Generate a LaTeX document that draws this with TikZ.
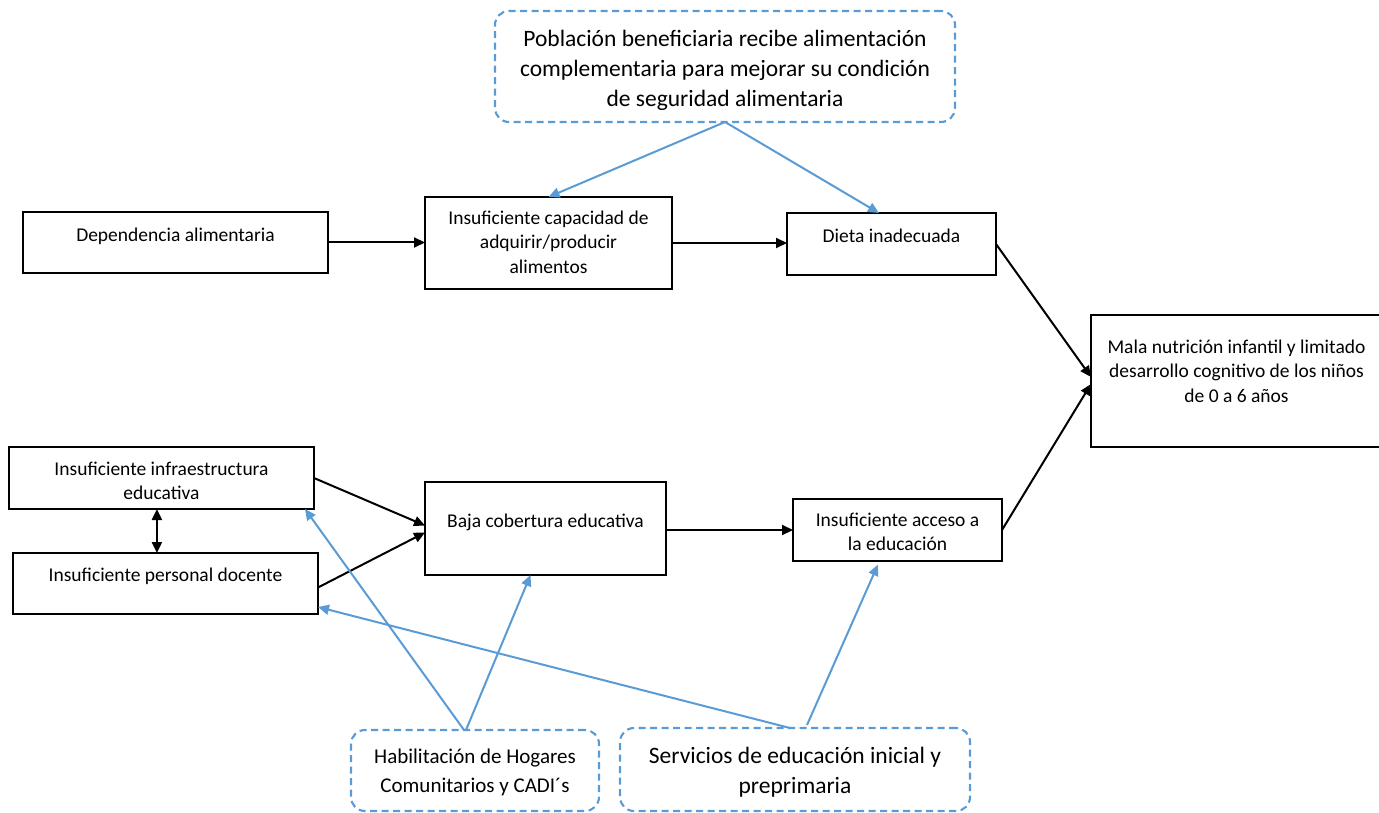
\documentclass[tikz,border=0pt]{standalone}
\usepackage{fontspec}
\setmainfont{Carlito}
\usetikzlibrary{arrows.meta,calc}
\definecolor{bl}{HTML}{5B9BD5}
% width, height, top space, text, font size, baselineskip
\newcommand{\bxt}[6]{\parbox[c][#2pt][t]{#1pt}{\fontsize{#5pt}{#6pt}\selectfont\vspace*{#3pt}\centering\strut #4\par}}
\begin{document}
\begin{tikzpicture}[x=1pt,y=-1pt,
  box/.style={draw=black,line width=2.3pt,inner sep=0pt,outer sep=0pt,anchor=north west},
  dbox/.style={draw=bl,line width=2.1pt,dash pattern=on 7pt off 4.5pt,rounded corners=14pt,inner sep=0pt,outer sep=0pt,anchor=north west},
  blk/.style={draw=black,line width=2pt,-{Triangle[length=11pt,width=10pt]}},
  blu/.style={draw=bl,line width=2pt,-{Triangle[length=11pt,width=10pt]}}]
\useasboundingbox (0,0) rectangle (1379,813);
% boxes
\node[box] (dep) at (23,212) {\bxt{305}{61}{12.35}{Dependencia alimentaria}{19.5}{24.5}};
\node[box] (cap) at (425,197) {\bxt{247}{92}{10.35}{Insuficiente capacidad de\\adquirir/producir\\alimentos}{19.5}{24.5}};
\node[box] (dieta) at (787,213) {\bxt{209}{62}{12.35}{Dieta inadecuada}{19.5}{24.5}};
\node[box] (mala) at (1091,315) {\bxt{291}{132}{21}{Mala nutrición infantil y limitado\\desarrollo cognitivo de los niños\\de 0 a 6 años}{19.5}{24.5}};
\node[box] (infra) at (9,447) {\bxt{305}{62}{11.35}{Insuficiente infraestructura\\educativa}{19.5}{24}};
\node[box] (doc) at (13,553) {\bxt{305}{61}{11.35}{Insuficiente personal docente}{19.5}{24.5}};
\node[box] (baja) at (425,482) {\bxt{241}{93}{28}{Baja cobertura educativa}{19.5}{24.5}};
\node[box] (acc) at (793,499) {\bxt{209}{62}{11.35}{Insuficiente acceso a\\la educación}{19.5}{23.5}};
% dashed boxes
\node[dbox] (pob) at (495,11) {\bxt{460}{111}{14.8}{Población beneficiaria recibe alimentación\\complementaria para mejorar su condición\\de seguridad alimentaria}{23.5}{30}};
\node[dbox] (hab) at (351,730) {\bxt{248}{81}{13}{Habilitación de Hogares\\Comunitarios y CADI´s}{21}{29}};
\node[dbox] (serv) at (620,728) {\bxt{350}{83}{15}{Servicios de educación inicial y\\preprimaria}{23.5}{29.5}};
% black connectors
\draw[blk] (dep.east) -- (dep.east -| cap.west);
\draw[blk] (cap.east) -- (cap.east -| dieta.west);
\draw[blk] (dieta.east) -- ([yshift=4pt]mala.west);
\draw[blk] (acc.east) -- ([yshift=-3pt]mala.west);
\draw[blk] (infra.east) -- ([yshift=3pt]baja.west);
\draw[blk] ([yshift=-4pt]doc.east) -- ([yshift=-4pt]baja.west);
\draw[blk] (baja.east |- acc.west) -- (acc.west);
\draw[blk,{Triangle[length=11pt,width=10pt]}-{Triangle[length=11pt,width=10pt]}]
  ($(infra.south west)!0.485!(infra.south east)$) coordinate (ia) -- (ia |- doc.north);
% blue connectors
\draw[blu] (pob.south) -- (cap.north);
\draw[blu] (pob.south) -- ($(dieta.north west)!0.44!(dieta.north east)$);
\draw[blu] ([xshift=-11pt]hab.north) -- ([xshift=-9pt]infra.south east);
\draw[blu] ([xshift=-9pt]hab.north) -- ([xshift=-15pt]baja.south);
\draw[blu] ([xshift=-5pt]serv.north) -- ([yshift=7pt]doc.south east);
\draw[blu,shorten >=4pt] ([xshift=12pt,yshift=3pt]serv.north) -- ([xshift=-18pt]acc.south);
\end{tikzpicture}
\end{document}
